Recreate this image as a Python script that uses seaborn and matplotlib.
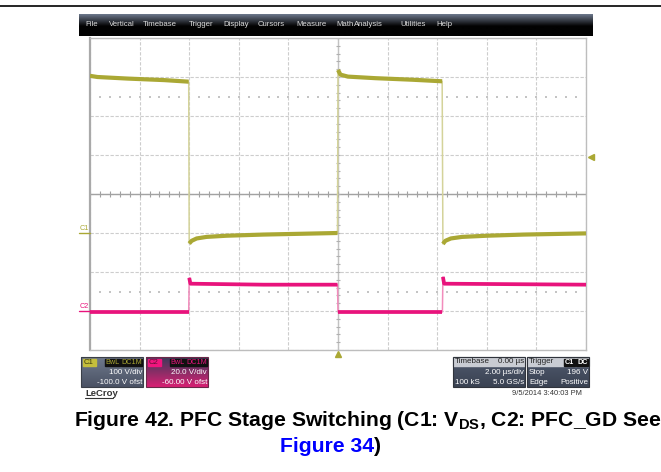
import numpy as np
import pandas as pd
import matplotlib
matplotlib.use("Agg")
import matplotlib.pyplot as plt
from matplotlib.patches import Rectangle
import seaborn as sns

# ---- waveform data (time in µs, values in volts) ----
c1_time = [-10.0, -9.7, -8.5, -7.0, -6.02, -6.0, -5.9, -5.7, -5.3, -4.5, -3.0, -1.5, -0.02,
           0.0, 0.1, 0.4, 1.5, 3.0, 4.2, 4.23, 4.33, 4.55, 5.0, 6.0, 7.5, 10.0]
c1_volts = [403, 400, 396, 392, 388, -27, -20, -14, -10, -7, -4, -2, 0,
            418, 406, 401, 397, 393, 389, -28, -20, -14, -10, -7, -4, -1]

c2_time = [-10.0, -6.02, -6.0, -5.95, -3.0, -0.02, 0.0, 4.21, 4.23, 4.28, 10.0]
c2_volts = [-0.5, -0.5, 17.0, 14.0, 13.5, 13.5, -0.5, -0.5, 17.5, 14.0, 13.5]

# channel settings
c1_scale, c1_offset = 100.0, -100.0   # V/div, V offset
c2_scale, c2_offset = 20.0, -60.0
trigger_level = 196.0
time_per_div = 2.0

C1_COLOR = "#aaa834"
C1_EDGE = "#d4d39a"
C2_COLOR = "#e8137c"
C2_EDGE = "#f28cbc"

W, H = 661, 472
sns.set_theme(style="white")
plt.rcParams["font.family"] = ["Liberation Sans", "DejaVu Sans"]
plt.rcParams["mathtext.fontset"] = "custom"
plt.rcParams["mathtext.rm"] = "Liberation Sans:bold"
plt.rcParams["mathtext.bf"] = "Liberation Sans:bold"

fig = plt.figure(figsize=(W / 100, H / 100), dpi=100)
fig.patch.set_facecolor("white")

# overlay in pixel coordinates for the instrument chrome
ov = fig.add_axes([0, 0, 1, 1])
ov.set_xlim(0, W)
ov.set_ylim(H, 0)
ov.axis("off")


def gradient(x0, y0, x1, y1, top, bottom, split=1.0):
    top = np.array(matplotlib.colors.to_rgb(top))
    bottom = np.array(matplotlib.colors.to_rgb(bottom))
    n = 64
    f = np.clip(np.linspace(0, 1, n) / split, 0, 1)[:, None]
    img = (top[None, :] * (1 - f) + bottom[None, :] * f)[:, None, :]
    ov.imshow(img, extent=(x0, x1, y1, y0), aspect="auto", interpolation="bilinear", zorder=1)


def px(x, y, s, size=5.8, color="white", ha="left", **kw):
    ov.text(x, y, s, fontsize=size, color=color, ha=ha, va="center", zorder=5, **kw)


# top page rule
ov.plot([0, W], [6, 6], color="black", lw=1.2, zorder=2)

# menu bar
gradient(79, 14, 593, 36, "#6d788c", "#020202", split=0.55)
menu = [("File", 85), ("Vertical", 109), ("Timebase", 143), ("Trigger", 189), ("Display", 223),
        ("Cursors", 258), ("Measure", 296), ("Math", 336), ("Analysis", 354),
        ("Utilities", 400), ("Help", 436)]
for name, x in menu:
    px(x, 25, name, size=5.6, color="#dcdcdc")

# channel descriptor boxes
gradient(81, 357, 143, 387, "#6f798c", "#4a5264")
ov.add_patch(Rectangle((81, 357), 62, 30, fill=False, ec="#3a3f48", lw=0.8, zorder=3))
ov.add_patch(Rectangle((83, 358.5), 13, 7.5, color="#c4be3c", zorder=3))
px(84, 362.3, "C1", size=5.6, color="#3a3a10")
ov.add_patch(Rectangle((105, 358.5), 15, 7.5, color="#111111", zorder=3))
ov.add_patch(Rectangle((121, 358.5), 21, 7.5, color="#111111", zorder=3))
px(105.5, 362.3, "BwL", size=5.2, color=C1_COLOR)
px(121.3, 362.3, "DC1M", size=5.2, color=C1_COLOR)
px(142, 373, f"{c1_scale:.0f} V/div", ha="right")
px(142, 382, f"{c1_offset:.1f} V ofst", ha="right")

gradient(146, 357, 208, 387, "#3c3c5a", "#d81f73")
ov.add_patch(Rectangle((146, 357), 62, 30, fill=False, ec="#6a2848", lw=0.8, zorder=3))
ov.add_patch(Rectangle((148, 358.5), 13, 7.5, color="#f0157e", zorder=3))
px(149, 362.3, "C2", size=5.6, color="#5a0f33")
ov.add_patch(Rectangle((170, 358.5), 15, 7.5, color="#111111", zorder=3))
ov.add_patch(Rectangle((186, 358.5), 21, 7.5, color="#111111", zorder=3))
px(170.5, 362.3, "BwL", size=5.2, color=C2_COLOR)
px(186.3, 362.3, "DC1M", size=5.2, color=C2_COLOR)
px(207, 373, f"{c2_scale:.1f} V/div", ha="right")
px(207, 382, f"{c2_offset:.2f} V ofst", ha="right")

ov.text(85, 393.5, "LeCroy", fontsize=6.8, color="#333333", ha="left", va="center",
        fontweight="bold", zorder=5)
ov.plot([85, 113], [398, 398], color="#333333", lw=0.8, zorder=5)

# timebase / trigger boxes
gradient(453, 357, 525, 387, "#505a6e", "#3a4252")
ov.add_patch(Rectangle((453, 357), 72, 9, color="#c9ccd3", zorder=2))
ov.add_patch(Rectangle((453, 357), 72, 30, fill=False, ec="#30343c", lw=0.8, zorder=3))
px(455, 361.8, "Timebase", color="#222222")
px(524, 361.8, "0.00 µs", color="#222222", ha="right")
px(524, 373, f"{time_per_div:.2f} µs/div", ha="right")
px(455, 382, "100 kS")
px(524, 382, "5.0 GS/s", ha="right")

gradient(527, 357, 589, 387, "#505a6e", "#3a4252")
ov.add_patch(Rectangle((527, 357), 62, 9, color="#c9ccd3", zorder=2))
ov.add_patch(Rectangle((527, 357), 62, 30, fill=False, ec="#30343c", lw=0.8, zorder=3))
px(529, 361.8, "Trigger", color="#222222")
ov.add_patch(Rectangle((564, 358.5), 11, 7, color="#111111", zorder=3))
ov.add_patch(Rectangle((576, 358.5), 12, 7, color="#111111", zorder=3))
px(565, 362.3, "C1", size=5.2, color="white", fontweight="bold")
px(577, 362.3, "DC", size=5.2, color="white", fontweight="bold")
px(529, 373, "Stop")
px(588, 373, f"{trigger_level:.0f} V", ha="right")
px(529, 382, "Edge")
px(588, 382, "Positive", ha="right")

px(582, 393.5, "9/5/2014 3:40:03 PM", color="#333333", ha="right", size=5.4)

# caption
cap1 = ov.text(74, 421, r"Figure 42. PFC Stage Switching (C1: V$_{\rm DS}$, C2: PFC_GD See",
               fontsize=15.2, fontweight="bold", color="black", ha="left", va="center", zorder=5)
cap2 = ov.text(280, 447, "Figure 34", fontsize=15.2, fontweight="bold", color="#0000ff",
               ha="left", va="center", zorder=5)
fig.canvas.draw()
bb = cap2.get_window_extent().transformed(ov.transData.inverted())
ov.text(max(bb.x0, bb.x1), 447, ")", fontsize=15.2, fontweight="bold", color="black",
        ha="left", va="center", zorder=5)

# ---- graticule ----
ax = fig.add_axes([90 / W, 1 - 350 / H, 496 / W, 312 / H])
ax.set_facecolor("white")
ax.set_xlim(-5 * time_per_div, 5 * time_per_div)
ax.set_ylim(-4, 4)
ax.set_xticks(np.arange(-10, 10.1, time_per_div))
ax.set_yticks(np.arange(-4, 4.1, 1))
ax.tick_params(length=0, labelbottom=False, labelleft=False)
ax.grid(True, color="#cdcdcd", lw=0.8, linestyle=(0, (3, 1.5)))
for side, sp in ax.spines.items():
    sp.set_color("#bdbdbd")
    sp.set_linewidth(1.0)
ax.spines["left"].set_color("#a9a9a9")
ax.spines["left"].set_linewidth(1.6)

ax.axhline(0, color="#a2a2a2", lw=1.0, zorder=2)
ax.axvline(0, color="#c2c2c2", lw=1.0, zorder=2)
minor_t = np.arange(-10, 10.01, time_per_div / 5)
ax.vlines(minor_t, -0.07, 0.07, color="#a2a2a2", lw=0.8, zorder=2)
minor_d = np.arange(-4, 4.01, 0.2)
ax.hlines(minor_d, -0.1, 0.1, color="#b0b0b0", lw=0.8, zorder=2)
for yrow in (2.5, -2.5):
    ax.scatter(minor_t[1:-1], np.full(len(minor_t) - 2, yrow), s=0.8, marker="s",
               color="#c4c4c4", lw=0, zorder=2)


def trace_frames(t, v, scale, offset, jump):
    t = np.asarray(t, float)
    d = (np.asarray(v, float) + offset) / scale
    flat, edge = [], []
    start, seg = 0, 0
    for i in range(1, len(t)):
        if abs(v[i] - v[i - 1]) > jump:
            for j in range(start, i):
                flat.append((t[j], d[j], seg))
            edge += [(t[i - 1], d[i - 1], seg), (t[i], d[i], seg)]
            seg += 1
            start = i
    for j in range(start, len(t)):
        flat.append((t[j], d[j], seg))
    cols = ["t", "div", "seg"]
    return pd.DataFrame(flat, columns=cols), pd.DataFrame(edge, columns=cols)


c1_flat, c1_edge = trace_frames(c1_time, c1_volts, c1_scale, c1_offset, 100)
c2_flat, c2_edge = trace_frames(c2_time, c2_volts, c2_scale, c2_offset, 8)

for flat, edge, col, ecol, lw in ((c1_flat, c1_edge, C1_COLOR, C1_EDGE, 3.0),
                                  (c2_flat, c2_edge, C2_COLOR, C2_EDGE, 2.7)):
    sns.lineplot(data=edge, x="t", y="div", units="seg", estimator=None, sort=False,
                 color=ecol, lw=1.1, ax=ax, zorder=4)
    sns.lineplot(data=flat, x="t", y="div", units="seg", estimator=None, sort=False,
                 color=col, lw=lw, ax=ax, zorder=5, solid_capstyle="butt")
ax.set_xlabel("")
ax.set_ylabel("")

# ground markers, trigger level and trigger position
for name, off, scale, col in (("C1", c1_offset, c1_scale, C1_COLOR), ("C2", c2_offset, c2_scale, C2_COLOR)):
    g = off / scale
    ax.plot([-10.45, -10.0], [g, g], color=col, lw=1.0, clip_on=False, zorder=6)
    gy = 194 - g * 39
    ov.text(80, gy - 1.5, name, fontsize=5.2, color=col, ha="left", va="bottom",
            rotation=0, zorder=6)
ax.plot(10.2, (trigger_level + c1_offset) / c1_scale, marker="<", ms=4, color=C1_COLOR,
        clip_on=False, zorder=6, lw=0)
ax.plot(0, -4.1, marker="^", ms=4, color=C1_COLOR, clip_on=False, zorder=6, lw=0)

fig.savefig("out.png", dpi=100, facecolor="white")
